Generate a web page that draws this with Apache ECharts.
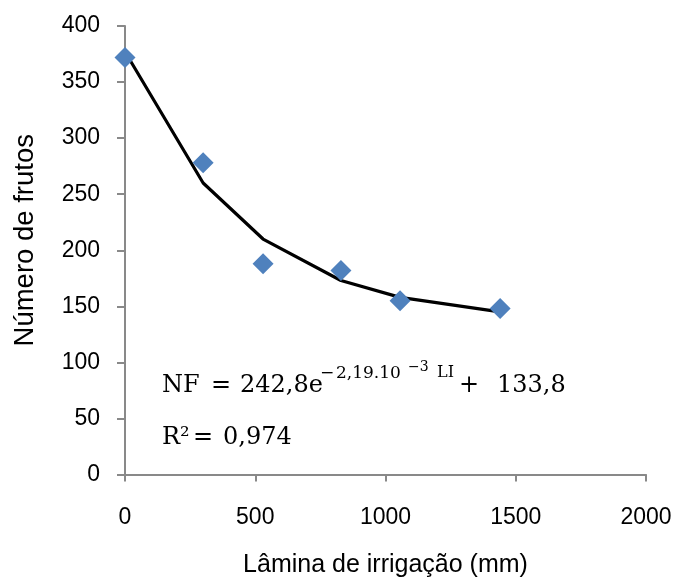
<!DOCTYPE html>
<html>
<head>
<meta charset="utf-8">
<script src="https://cdn.jsdelivr.net/npm/echarts@6/dist/echarts.min.js"></script>
<style>html,body{margin:0;padding:0;background:#fff}#c{width:678px;height:578px}</style>
</head>
<body>
<div id="c"></div>
<script>
// Data
const lamina = [0, 300, 530, 829, 1056, 1440];
const frutos = [372, 278, 188, 182, 155, 148];
const ajuste = [377, 260, 210, 173, 158, 145];
const xTicks = [0, 500, 1000, 1500, 2000];
const yTicks = [0, 50, 100, 150, 200, 250, 300, 350, 400];
const xTitle = 'Lâmina de irrigação (mm)';
const yTitle = 'Número de frutos';

const chart = echarts.init(document.getElementById('c'), null, {renderer: 'canvas'});
const axisColor = '#898989';
const sans = 'Liberation Sans';
const serif = 'DejaVu Serif';
const eqColor = '#000';

function t(left, top, text, size) {
  return {type: 'text', left: left, top: top, style: {text: text, fontFamily: serif, fontSize: size, fill: eqColor}};
}

chart.setOption({
  animation: false,
  backgroundColor: '#fff',
  grid: {left: 125, right: 32, top: 26, bottom: 103.5, containLabel: false, outerBoundsMode: 'none'},
  xAxis: {
    type: 'value', min: xTicks[0], max: xTicks[xTicks.length - 1], interval: 500,
    name: xTitle, nameLocation: 'middle', nameGap: 78,
    nameTextStyle: {fontFamily: sans, fontSize: 25, color: '#000'},
    axisLine: {show: true, lineStyle: {color: axisColor, width: 2}},
    axisTick: {show: true, inside: false, length: 7, lineStyle: {color: axisColor, width: 2}},
    axisLabel: {fontFamily: sans, fontSize: 23, color: '#000', margin: 32, formatter: v => String(v)},
    splitLine: {show: false}
  },
  yAxis: {
    type: 'value', min: yTicks[0], max: yTicks[yTicks.length - 1], interval: 50,
    name: yTitle, nameLocation: 'middle', nameGap: 86, nameRotate: 90,
    nameTextStyle: {fontFamily: sans, fontSize: 27.5, color: '#000', padding: [0, 0, 0, 20]},
    axisLine: {show: true, lineStyle: {color: axisColor, width: 2}},
    axisTick: {show: true, inside: false, length: 8, lineStyle: {color: axisColor, width: 2}},
    axisLabel: {fontFamily: sans, fontSize: 23, color: '#000', margin: 25, formatter: v => String(v)},
    splitLine: {show: false}
  },
  series: [
    {
      type: 'line', data: lamina.map((x, i) => [x, ajuste[i]]),
      showSymbol: false, symbol: 'none',
      lineStyle: {color: '#000', width: 3.2}, z: 2
    },
    {
      type: 'scatter', data: lamina.map((x, i) => [x, frutos[i]]),
      symbol: 'diamond', symbolSize: 21,
      itemStyle: {color: '#4F81BD', opacity: 1}, z: 3
    }
  ],
  graphic: [
    t(162, 374, 'NF', 24),
    t(211, 374, '=', 24),
    t(240, 374, '242,8e', 24),
    t(320, 365, '\u2212', 17),
    t(336, 365, '2,19.10', 17),
    t(408, 360, '\u22123', 14),
    t(437, 365, 'LI', 16),
    t(459, 374, '+', 24),
    t(497, 374, '133,8', 24),
    t(162, 426, 'R²', 24),
    t(193, 426, '=', 24),
    t(223, 426, '0,974', 24)
  ]
});
</script>
</body>
</html>
